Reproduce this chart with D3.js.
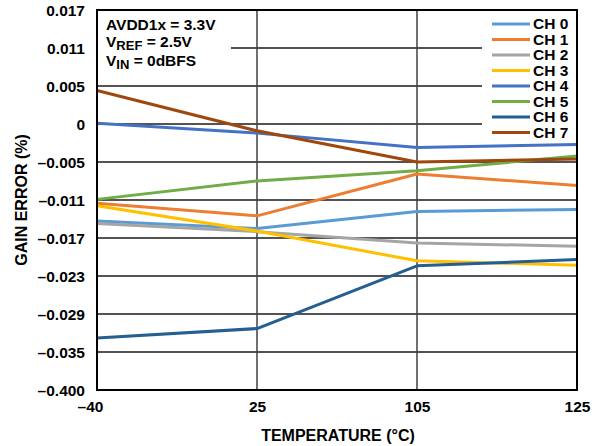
<!DOCTYPE html>
<html><head><meta charset="utf-8">
<script src="https://cdn.jsdelivr.net/npm/d3@7"></script>
<style>
html,body{margin:0;padding:0;background:#fff;}
svg text{font-family:"Liberation Sans",Arial,sans-serif;font-weight:bold;fill:#000;}
</style></head>
<body>
<svg id="chart" width="602" height="446"></svg>
<script>
const categories = ["-40", "25", "105", "125"];
const categoryLabels = ["\u201340", "25", "105", "125"];
const yTickValues = [0.017, 0.011, 0.005, 0, -0.005, -0.011, -0.017, -0.023, -0.029, -0.035, -0.400];
const yTickLabels = ["0.017", "0.011", "0.005", "0", "\u20130.005", "\u20130.011", "\u20130.017", "\u20130.023", "\u20130.029", "\u20130.035", "\u20130.400"];
const seriesNames = ["CH 0", "CH 1", "CH 2", "CH 3", "CH 4", "CH 5", "CH 6", "CH 7"];
const seriesColors = ["#5B9BD5", "#ED7D31", "#A5A5A5", "#FFC000", "#4472C4", "#70AD47", "#255E91", "#9E480E"];
const ch0 = [-0.0143, -0.0155, -0.0128, -0.0125];
const ch1 = [-0.0115, -0.0135, -0.0069, -0.0087];
const ch2 = [-0.0147, -0.0160, -0.0178, -0.0183];
const ch3 = [-0.0119, -0.0159, -0.0206, -0.0213];
const ch4 = [0.0001, -0.0012, -0.0031, -0.0027];
const ch5 = [-0.0109, -0.0080, -0.0064, -0.0042];
const ch6 = [-0.0328, -0.0313, -0.0214, -0.0204];
const ch7 = [0.0044, -0.0009, -0.0050, -0.0046];
const seriesValues = [ch0, ch1, ch2, ch3, ch4, ch5, ch6, ch7];
const annotation = [["AVDD1x = 3.3V", ""], ["V", "REF", " = 2.5V"], ["V", "IN", " = 0dBFS"]];

const L = 97, R = 577, T = 10, B = 390;
const svg = d3.select("#chart");

const x = d3.scalePoint().domain(categories).range([L, R]);
// piecewise-linear scale: the reference axis has evenly spaced, unevenly valued ticks
const yRange = yTickValues.map((d, i) => T + (B - T) * i / (yTickValues.length - 1));
const y = d3.scaleLinear().domain(yTickValues).range(yRange);

// horizontal gridlines
svg.append("g").selectAll("line").data(yTickValues.slice(1, -1)).join("line")
  .attr("x1", L).attr("x2", R).attr("y1", d => y(d)).attr("y2", d => y(d))
  .attr("stroke", "#1a1a1a").attr("stroke-width", 1.3);
// vertical gridlines
svg.append("g").selectAll("line").data(categories.slice(1, -1)).join("line")
  .attr("x1", d => x(d)).attr("x2", d => x(d)).attr("y1", T).attr("y2", B)
  .attr("stroke", "#404040").attr("stroke-width", 1.5);

// annotation background
svg.append("rect").attr("x", L + 1).attr("y", T + 1).attr("width", 133).attr("height", 64).attr("fill", "#fff");
// legend background
svg.append("rect").attr("x", 482).attr("y", T + 1).attr("width", R - 483).attr("height", 130).attr("fill", "#fff");

// data lines
const line = d3.line().x((d, i) => x(categories[i])).y(d => y(d));
svg.append("g").selectAll("path").data(seriesValues).join("path")
  .attr("d", d => line(d)).attr("fill", "none")
  .attr("stroke", (d, i) => seriesColors[i]).attr("stroke-width", 3)
  .attr("stroke-linejoin", "round");

// frame
svg.append("rect").attr("x", L).attr("y", T).attr("width", R - L).attr("height", B - T)
  .attr("fill", "none").attr("stroke", "#000").attr("stroke-width", 2);

// y axis labels
const yAxis = d3.axisLeft(y).tickValues(yTickValues).tickSize(0).tickPadding(12)
  .tickFormat((d, i) => yTickLabels[i]);
const gy = svg.append("g").attr("transform", `translate(${L},0)`).call(yAxis);
gy.select(".domain").remove();
gy.selectAll("text").attr("font-size", 15.5).attr("font-family", null).attr("dy", "0.35em");

// x axis labels
const xAxis = d3.axisBottom(x).tickSize(0).tickPadding(11)
  .tickFormat((d, i) => categoryLabels[i]);
const gx = svg.append("g").attr("transform", `translate(0,${B})`).call(xAxis);
gx.select(".domain").remove();
gx.selectAll("text").attr("font-size", 15.5).attr("font-family", null)
  .attr("dx", (d, i) => i === 0 ? -7 : 0);

// axis titles
svg.append("text").attr("x", 338).attr("y", 441).attr("text-anchor", "middle")
  .attr("font-size", 16).text("TEMPERATURE (\u00B0C)");
svg.append("text").attr("transform", `translate(27,${(T + B) / 2}) rotate(-90)`)
  .attr("text-anchor", "middle").attr("font-size", 16).text("GAIN ERROR (%)");

// annotation
const ann = svg.append("g");
const annY = [30, 47, 66];
annotation.forEach((parts, i) => {
  const t = ann.append("text").attr("x", 106).attr("y", annY[i]).attr("font-size", 15.5);
  if (parts.length === 2) { t.text(parts[0]); return; }
  t.append("tspan").text(parts[0]);
  t.append("tspan").attr("dy", 3).attr("font-size", 13).text(parts[1]);
  t.append("tspan").attr("dy", -3).text(parts[2]);
});

// legend
const lg = svg.append("g").selectAll("g").data(seriesNames).join("g")
  .attr("transform", (d, i) => `translate(492,${24 + i * 15.5})`);
lg.append("line").attr("x1", 0).attr("x2", 38).attr("stroke", (d, i) => seriesColors[i]).attr("stroke-width", 3);
lg.append("text").attr("x", 41).attr("dy", "0.35em").attr("font-size", 15.5).text(d => d);
</script>
</body></html>
